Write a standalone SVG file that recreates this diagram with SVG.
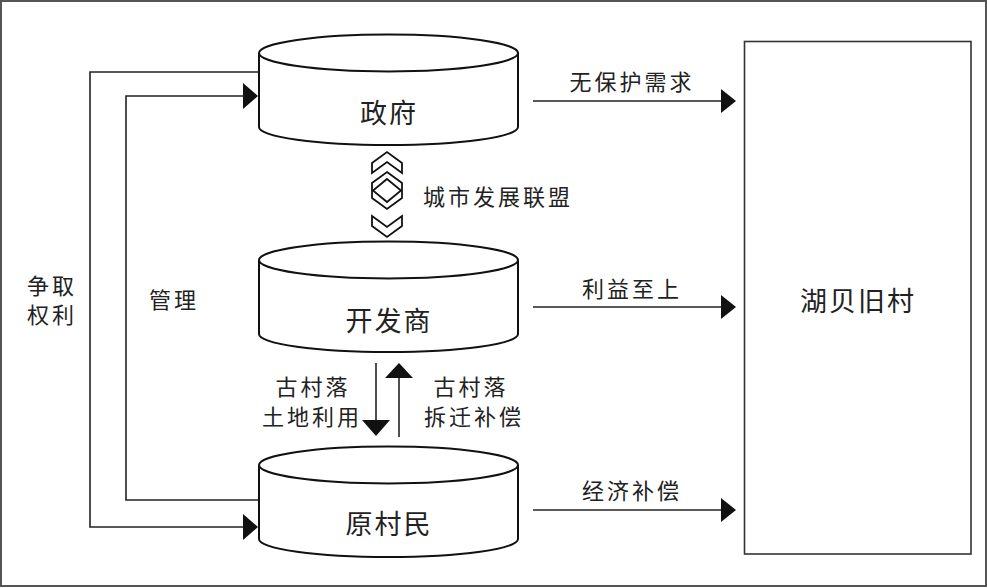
<svg xmlns="http://www.w3.org/2000/svg" width="987" height="588" viewBox="0 0 987 588">
<defs>
<style>
.cyl{fill:#fff;stroke:#111;stroke-width:2}
.ln{fill:none;stroke:#222;stroke-width:1.6}
.head{fill:#111}
.t{font-family:"Noto Sans CJK SC","Noto Sans",sans-serif;fill:#222;text-anchor:middle;dominant-baseline:central}
.big{font-size:27px;letter-spacing:2px}
.lbl{font-size:22px;letter-spacing:3px}
.sym{fill:#fff;stroke:#111;stroke-width:1.8;stroke-linejoin:miter}
</style>
</defs>
<rect x="0" y="0" width="987" height="588" fill="#fff"/>
<rect x="1" y="1" width="985" height="585" fill="none" stroke="#555" stroke-width="2"/>

<g id="connectors">
  <path class="ln" d="M259,72 H90 V527 H244"/>
  <polygon class="head" points="243,514 258,527 243,540"/>
  <path class="ln" d="M259,500 H126 V96 H244"/>
  <polygon class="head" points="243,83 258,96 243,109"/>
  <path class="ln" d="M533,101 H722"/>
  <polygon class="head" points="721,89 736,101 721,113"/>
  <path class="ln" d="M533,307 H722"/>
  <polygon class="head" points="721,295 736,307 721,319"/>
  <path class="ln" d="M533,510 H722"/>
  <polygon class="head" points="721,498 736,510 721,522"/>
  <path class="ln" d="M376,363 V422"/>
  <polygon class="head" points="362,420 390,420 376,436"/>
  <path class="ln" d="M399,437 V378"/>
  <polygon class="head" points="385,378 413,378 399,363"/>
  <g id="alliance-symbol">
    <path class="sym" d="M372,163 L387,152 L402,163 L402,173 L387,162 L372,173 Z"/>
    <path class="sym" d="M387,172 L402,183 L402,198 L387,209 L372,198 L372,183 Z"/>
    <path class="sym" d="M387,179 L401,190.5 L387,202 L373,190.5 Z"/>
    <path class="sym" d="M372,216 L387,227 L402,216 L402,226 L387,237 L372,226 Z"/>
  </g>
</g>

<g id="zhengfu">
  <path class="cyl" d="M259,53 V127 A129.5,18 0 0 0 518,127 V53"/>
  <ellipse class="cyl" cx="388.5" cy="53" rx="129.5" ry="18.5"/>
  <text class="t big" x="389" y="111">政府</text>
</g>

<g id="kaifashang">
  <path class="cyl" d="M259,260 V334 A129.5,18 0 0 0 518,334 V260"/>
  <ellipse class="cyl" cx="388.5" cy="260" rx="129.5" ry="18.5"/>
  <text class="t big" x="389" y="319">开发商</text>
</g>

<g id="yuancunmin">
  <path class="cyl" d="M259,465 V539 A129.5,18 0 0 0 518,539 V465"/>
  <ellipse class="cyl" cx="388.5" cy="465" rx="129.5" ry="18.5"/>
  <text class="t big" x="389" y="522">原村民</text>
</g>

<g id="hubeijiucun">
  <rect x="744.5" y="41.5" width="226.5" height="512.5" fill="#fff" stroke="#333" stroke-width="1.6"/>
  <text class="t big" x="858" y="299">湖贝旧村</text>
</g>

<g id="labels">
  <text class="t lbl" x="632" y="80">无保护需求</text>
  <text class="t lbl" x="632" y="287">利益至上</text>
  <text class="t lbl" x="632" y="489">经济补偿</text>
  <text class="t lbl" x="498" y="195">城市发展联盟</text>
  <text class="t lbl" x="313" y="385">古村落</text>
  <text class="t lbl" x="312" y="414.5">土地利用</text>
  <text class="t lbl" x="471" y="385">古村落</text>
  <text class="t lbl" x="474" y="414.5">拆迁补偿</text>
  <text class="t lbl" x="52" y="284">争取</text>
  <text class="t lbl" x="52" y="313">权利</text>
  <text class="t lbl" x="174" y="298">管理</text>
</g>
</svg>
